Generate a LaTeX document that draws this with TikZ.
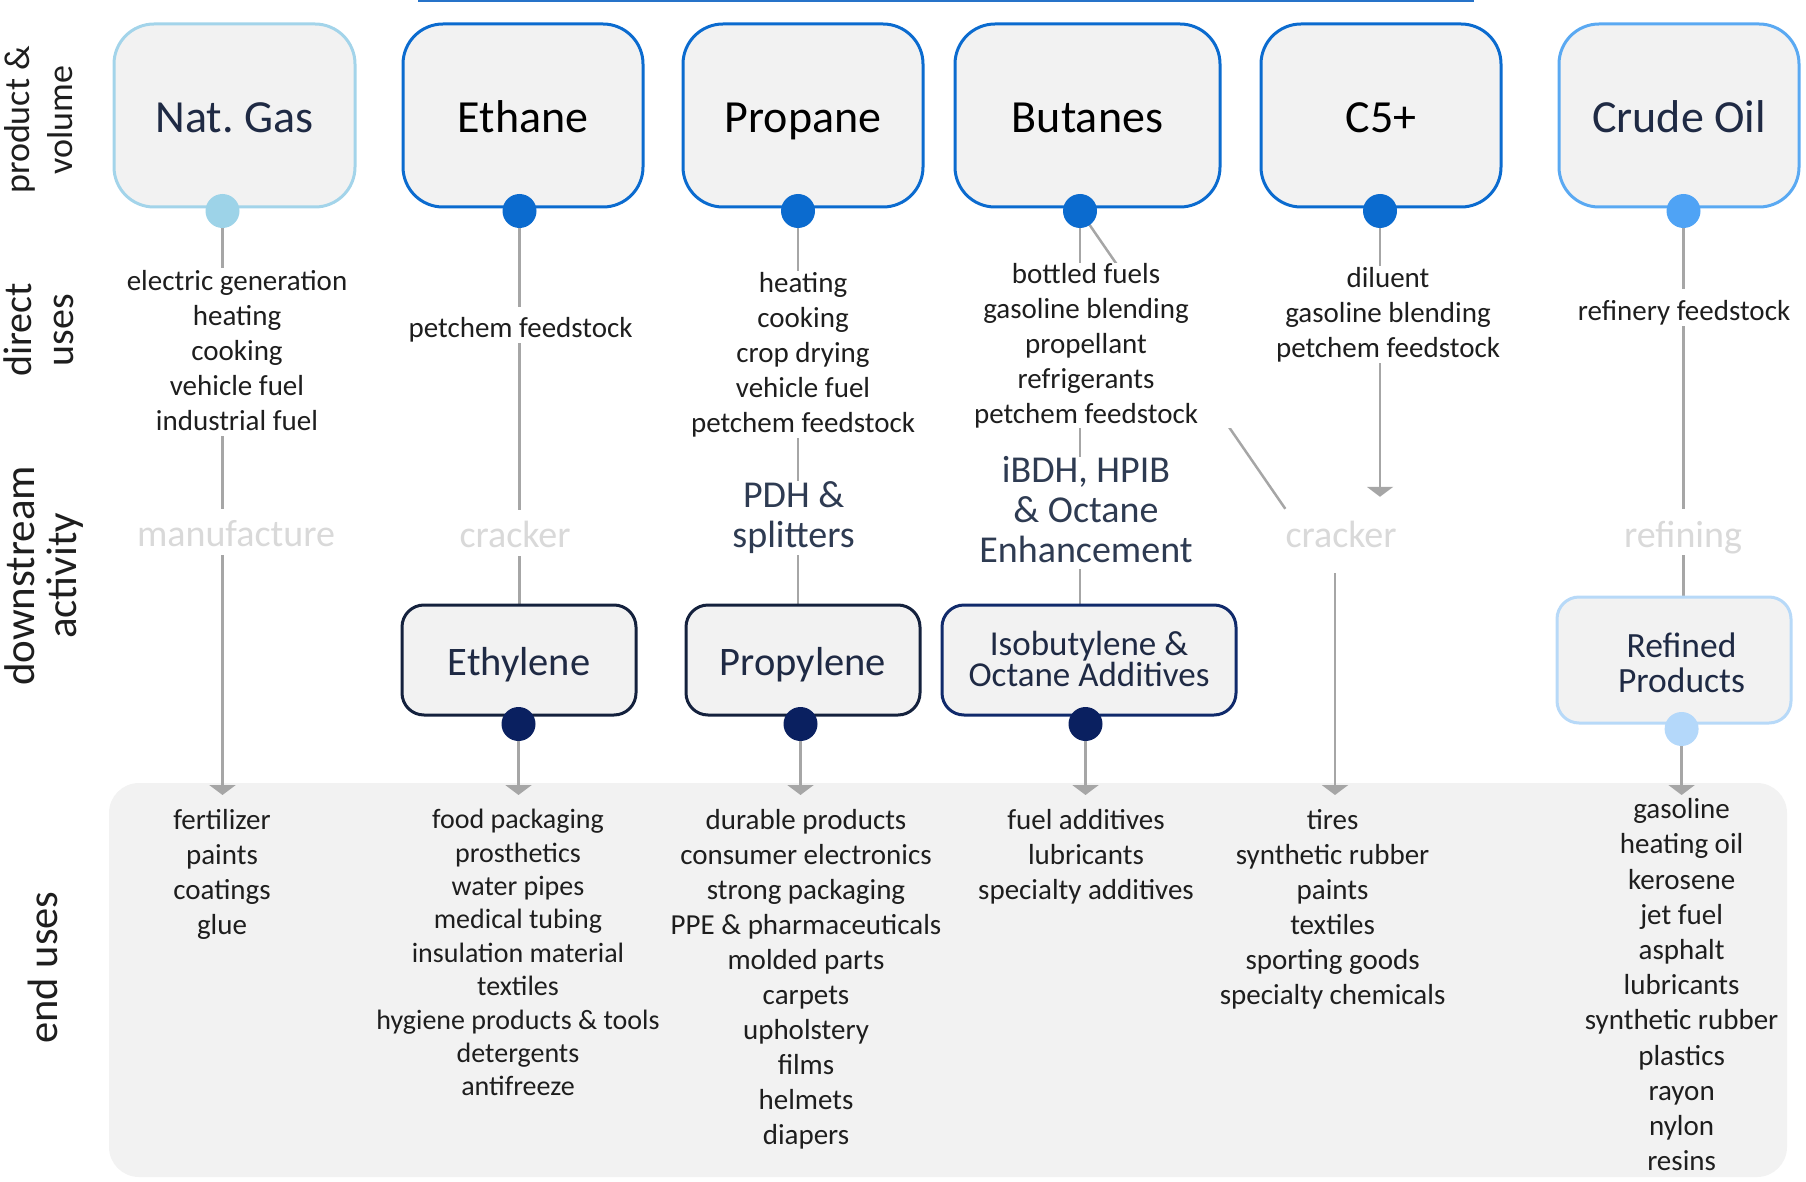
\documentclass[tikz,border=0pt]{standalone}
\usepackage{fontspec}
\setmainfont{Carlito}
\usetikzlibrary{arrows.meta}
\pgfdeclarelayer{panel}
\pgfdeclarelayer{lines}
\pgfsetlayers{panel,lines,main}
\definecolor{boxfill}{HTML}{F2F2F2}
\definecolor{cNG}{HTML}{A3D4EA}
\definecolor{cNGdot}{HTML}{9DD3E8}
\definecolor{cBlue}{HTML}{0B6BCF}
\definecolor{cCrude}{HTML}{5AA9F2}
\definecolor{cCrudeDot}{HTML}{4FA3F5}
\definecolor{cDark}{HTML}{14213D}
\definecolor{cDarkBlue}{HTML}{102A6B}
\definecolor{cDarkDot}{HTML}{0A2060}
\definecolor{cRef}{HTML}{B7D9F8}
\definecolor{cRefDot}{HTML}{B4D8FA}
\definecolor{cNavy}{HTML}{1F2A44}
\definecolor{cTxt}{HTML}{1E1E1E}
\definecolor{cLight}{HTML}{D9D9D9}
\definecolor{cSlate}{HTML}{2E3B52}
\definecolor{cLine}{HTML}{A6A6A6}
\definecolor{cTop}{HTML}{2673C9}
\newcommand\tstrut[1]{\leavevmode\vrule height\dimexpr0.7\baselineskip+#1\relax depth0pt width0pt\relax}
\newcommand\bstrut[1]{\vrule height0pt depth\dimexpr0.3\baselineskip-#1\relax width0pt\relax}
\begin{document}
\begin{tikzpicture}[x=1pt,y=-1pt,
  struts/.style={execute at begin node={\tstrut{#1}}, execute at end node={\bstrut{#1}}},
  struts/.default=6pt,
  topbox/.style={draw, line width=3pt, fill=boxfill, rounded corners=40pt,
    minimum width=#1, minimum height=183pt, inner sep=0pt,
    font=\fontsize{46}{56}\selectfont, struts},
  lowbox/.style={draw, line width=3pt, fill=boxfill, rounded corners=22pt,
    minimum width=#1, minimum height=110pt, inner sep=0pt, text=cNavy,
    align=center, struts},
  dot/.style={circle, minimum size=34pt, inner sep=0pt, fill=#1},
  uses/.style={font=\fontsize{29}{35}\selectfont, align=center, fill=white,
    text=cTxt, inner xsep=4pt, inner ysep=1pt, struts},
  enduse/.style={font=\fontsize{29}{35}\selectfont, align=center,
    text=cTxt, inner sep=0pt, struts},
  graylbl/.style={font=\fontsize{38}{46}\selectfont, text=cLight, fill=white,
    inner xsep=2pt, inner ysep=0pt, struts},
  darklbl/.style={font=\fontsize{38}{40}\selectfont, text=cSlate, fill=white,
    align=center, inner xsep=2pt, inner ysep=0pt, struts},
  rowlbl/.style={font=\fontsize{36}{43}\selectfont, rotate=90, align=center,
    text=cTxt, inner sep=0pt, struts=0pt},
  conn/.style={draw=cLine, line width=2.5pt},
  arr/.style={conn, -{Triangle[width=26pt,length=10pt]}}
]
\lineskiplimit=-100pt
\useasboundingbox (0,0) rectangle (1806,1182);

% stray top line
\draw[cTop, line width=1.5pt] (418,1) -- (1474,1);

% end uses panel
\begin{pgfonlayer}{panel}
\node[fill=boxfill, rounded corners=30pt, minimum width=1678pt,
  minimum height=394pt, inner sep=0pt] (panel) at (948,980) {};
\end{pgfonlayer}
\coordinate (euin) at (0,795);

% row labels
\node[rowlbl] (lbl1) at (45,120) {product \&\\volume};
\node[rowlbl, font=\fontsize{40}{42}\selectfont] (lbl2) at (45,330) {direct\\uses};
\node[rowlbl, font=\fontsize{43}{42}\selectfont] (lbl3) at (47,576) {downstream\\activity};
\node[rowlbl, font=\fontsize{42.5}{50}\selectfont] (lbl4) at (47.5,967.5) {end uses};

% top boxes
\node[topbox=241pt, draw=cNG, text=cNavy] (ng) at (234.5,115.5) {Nat.\ Gas};
\node[topbox=240pt, draw=cBlue] (eth) at (523,115.5) {Ethane};
\node[topbox=240pt, draw=cBlue] (prop) at (803,115.5) {Propane};
\node[topbox=265pt, draw=cBlue] (but) at (1087.5,115.5) {Butanes};
\node[topbox=240pt, draw=cBlue] (c5) at (1381,115.5) {C5+};
\node[topbox=240pt, draw=cCrude, text=cNavy] (crude) at (1679,115.5) {Crude Oil};

\node[dot=cNGdot] (ngdot) at (222.5,211) {};
\node[dot=cBlue] (ethdot) at (519.5,211) {};
\node[dot=cBlue] (propdot) at (798,211) {};
\node[dot=cBlue] (butdot) at (1080,211) {};
\node[dot=cBlue] (c5dot) at (1380,211) {};
\node[dot=cCrudeDot] (crudedot) at (1683.5,211) {};

% direct uses
\node[uses, inner ysep=1.5pt] (ngdir) at (237,352.3) {electric generation\\heating\\cooking\\vehicle fuel\\industrial fuel};
\node[uses, inner ysep=0.5pt] (ethdir) at (520.6,324.6) {petchem feedstock};
\node[uses] (propdir) at (803,354.6) {heating\\cooking\\crop drying\\vehicle fuel\\petchem feedstock};
\node[uses, inner ysep=0pt, minimum width=292pt] (butdir) at (1086,345.3) {bottled fuels\\gasoline blending\\propellant\\refrigerants\\petchem feedstock};
\node[uses] (c5dir) at (1388,314.9) {diluent\\gasoline blending\\petchem feedstock};
\node[uses] (crudedir) at (1684,307.4) {refinery feedstock};

% downstream activity
\node[graylbl] (ngact) at (236,531.5) {manufacture};
\node[graylbl] (ethact) at (515,532.5) {cracker};
\node[graylbl, inner xsep=0pt] (crack2) at (1341,532) {cracker};
\node[graylbl] (refact) at (1683,532) {refining};
\node[darklbl, inner ysep=1pt] (propact) at (793.6,517.8) {PDH \&\\splitters};
\node[darklbl] (butact) at (1086,512.7) {iBDH, HPIB\\\& Octane\\Enhancement};

% downstream boxes
\node[lowbox=234pt, draw=cDark, font=\fontsize{40.5}{49}\selectfont] (ethyl) at (519,660) {Ethylene};
\node[lowbox=234pt, draw=cDark, font=\fontsize{40.5}{49}\selectfont] (propyl) at (803,660) {Propylene};
\node[lowbox=294pt, draw=cDarkBlue, font=\fontsize{35}{31}\selectfont] (isob) at (1089,660) {Isobutylene \&\\Octane Additives};
\node[lowbox=234pt, draw=cRef, minimum height=126pt,
  label={[font=\fontsize{35.5}{35.6}\selectfont, text=cNavy, align=center,
    inner sep=0pt, struts, xshift=7.5pt, yshift=-5pt]center:{Refined\\Products}}]
  (refbox) at (1674,660) {};

\node[dot=cDarkDot] (ethyldot) at (518.5,724) {};
\node[dot=cDarkDot] (propyldot) at (800.5,724) {};
\node[dot=cDarkDot] (isobdot) at (1085.5,724) {};
\node[dot=cRefDot] (refdot) at (1681.6,729) {};

% end uses
\node[enduse] (ngend) at (222,874.2) {fertilizer\\paints\\coatings\\glue};
\node[enduse, font=\fontsize{28}{33.4}\selectfont] (ethend) at (518,954.5) {food packaging\\prosthetics\\water pipes\\medical tubing\\insulation material\\textiles\\hygiene products \& tools\\detergents\\antifreeze};
\node[enduse] (propend) at (806,979.5) {durable products\\consumer electronics\\strong packaging\\PPE \& pharmaceuticals\\molded parts\\carpets\\upholstery\\films\\helmets\\diapers};
\node[enduse] (isobend) at (1086,856.8) {fuel additives\\lubricants\\specialty additives};
\node[enduse] (c5end) at (1332.6,909.5) {tires\\synthetic rubber\\paints\\textiles\\sporting goods\\specialty chemicals};
\node[enduse, font=\fontsize{29}{35.2}\selectfont] (crudeend) at (1681.6,986.9) {gasoline\\heating oil\\kerosene\\jet fuel\\asphalt\\lubricants\\synthetic rubber\\plastics\\rayon\\nylon\\resins};

% connectors
\begin{pgfonlayer}{lines}
\draw[arr] (ngdot.center) -- (ngdot |- euin);
\draw[conn] (ethdot.center) -- (ethdot |- ethyl.north);
\draw[arr] (ethyldot.center) -- (ethyldot |- euin);
\draw[conn] (propdot.center) -- (propdot |- propyl.north);
\draw[arr] (propyldot.center) -- (propyldot |- euin);
\draw[conn] (butdot.center) -- (butdot |- isob.north);
\draw[conn] (butdot.center) -- (crack2.north west);
\draw[arr] (isobdot.center) -- (isobdot |- euin);
\draw[arr, shorten >=12pt] (c5dot.center) -- (c5dot |- crack2.north);
\draw[arr, shorten <=18pt] ([xshift=-6pt]crack2.south) -- ([xshift=-6pt]crack2.south |- euin);
\draw[conn] (crudedot.center) -- (crudedot |- refbox.north);
\draw[arr] (refdot.center) -- (refdot |- euin);
\end{pgfonlayer}
\end{tikzpicture}
\end{document}
